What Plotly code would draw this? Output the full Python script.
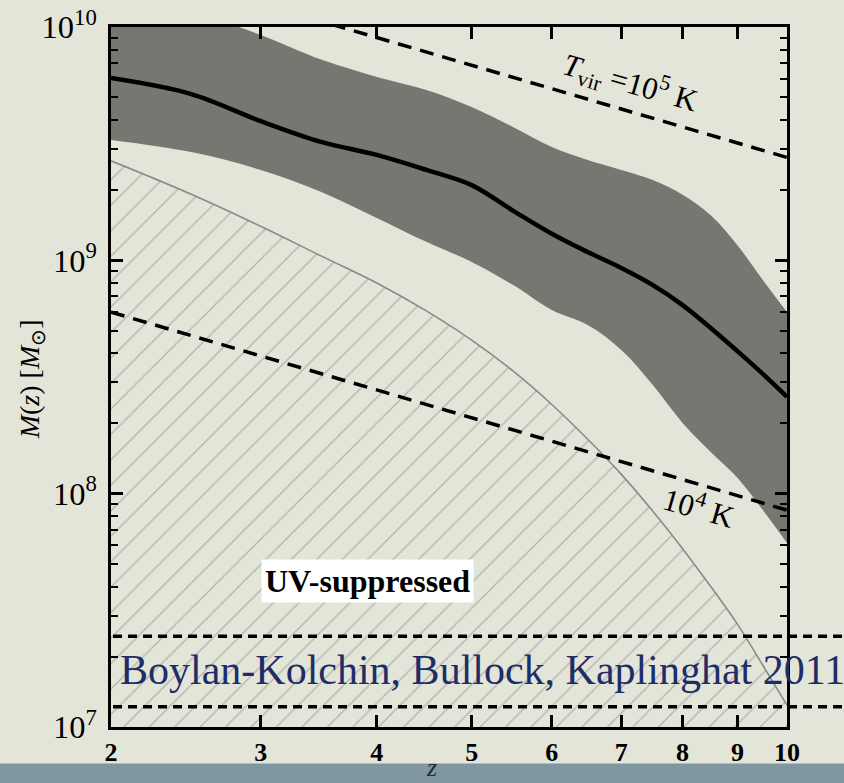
import numpy as np
import plotly.graph_objects as go

# Redshift grid and halo masses (M_sun)
z = [2.0, 2.5, 3.0, 3.5, 4.0, 4.5, 5.0, 5.5, 6.0, 6.5, 7.0, 7.5, 8.0, 8.5, 9.0, 9.5, 10.0]
m_median = [6.04e9, 5.16e9, 3.95e9, 3.21e9, 2.83e9, 2.44e9, 2.10e9, 1.63e9, 1.30e9,
            1.085e9, 9.27e8, 7.83e8, 6.43e8, 5.13e8, 4.08e8, 3.26e8, 2.60e8]
m_upper = [1.26e10, 1.15e10, 9.25e9, 7.23e9, 6.11e9, 5.37e9, 4.54e9, 3.72e9, 3.06e9,
           2.69e9, 2.44e9, 2.21e9, 1.91e9, 1.56e9, 1.16e9, 8.24e8, 6.0e8]
m_lower = [3.28e9, 2.91e9, 2.44e9, 1.96e9, 1.52e9, 1.20e9, 9.84e8, 7.83e8, 6.12e8,
           5.28e8, 4.13e8, 2.92e8, 2.01e8, 1.51e8, 1.17e8, 8.51e7, 6.14e7]
m_uv = [2.67e9, 1.92e9, 1.40e9, 1.04e9, 8.0e8, 6.07e8, 4.55e8, 3.35e8, 2.41e8,
        1.71e8, 1.21e8, 8.41e7, 5.81e7, 4.0e7, 2.76e7, 1.84e7, 1.24e7]

# Virial-temperature lines (straight in log-log)
z_tvir = [2.0, 10.0]
m_t5 = [1.94e10, 2.76e9]
m_t4 = [6.0e8, 8.5e7]

# Mass bracket marked across the panel
m_bracket = [2.45e7, 1.22e7]
m_floor = 1e7

x_ticks = [2, 3, 4, 5, 6, 7, 8, 9, 10]

opz = [1 + v for v in z]          # axis runs in log(1+z)
BG = "#e3e5d8"
SERIF = "Liberation Serif"
SMOOTH = dict(shape="spline", smoothing=1.0)

fig = go.Figure()

# scatter band (lower edge, then upper edge filled down to it)
fig.add_trace(go.Scatter(x=opz, y=m_lower, mode="lines",
                         line=dict(width=0, **SMOOTH), hoverinfo="skip"))
fig.add_trace(go.Scatter(x=opz, y=m_upper, mode="lines", fill="tonexty",
                         fillcolor="#767771", line=dict(width=0, **SMOOTH),
                         hoverinfo="skip"))

# UV-suppressed hatched region
fig.add_trace(go.Scatter(x=opz, y=[m_floor] * len(opz), mode="lines",
                         line=dict(width=0), hoverinfo="skip"))
fig.add_trace(go.Scatter(
    x=opz, y=m_uv, mode="lines", fill="tonexty", fillcolor="rgba(0,0,0,0)",
    line=dict(color="#8a8a86", width=1.6, **SMOOTH),
    fillpattern=dict(shape="/", size=18, solidity=0.07, fgcolor="#80807c",
                     bgcolor="rgba(0,0,0,0)"),
    hoverinfo="skip"))

# median track
fig.add_trace(go.Scatter(x=opz, y=m_median, mode="lines",
                         line=dict(color="black", width=4.5, **SMOOTH), hoverinfo="skip"))

# Tvir lines
for m in (m_t5, m_t4):
    fig.add_trace(go.Scatter(x=[1 + v for v in z_tvir], y=m, mode="lines",
                             line=dict(color="black", width=3.5, dash="14px,9px"),
                             hoverinfo="skip"))

# bracket lines extending past the frame
for m in m_bracket:
    fig.add_shape(type="line", xref="paper", yref="y", x0=0.003, x1=1.09, y0=m, y1=m,
                  line=dict(color="black", width=3.5, dash="9px,6px"), layer="above")

# bottom strip
fig.add_shape(type="rect", xref="paper", yref="paper", x0=-0.2, x1=1.2,
              y0=-0.09, y1=-0.052, fillcolor="#7f97a3", line=dict(width=0), layer="below")

ann = []
ann.append(dict(xref="paper", yref="paper", x=0.768, y=0.92, textangle=16,
                xanchor="center", yanchor="middle",
                text="<i>T</i><sub>vir</sub> =10<sup>5</sup> K", showarrow=False,
                font=dict(family=SERIF, size=31, color="black")))
ann.append(dict(xref="paper", yref="paper", x=0.871, y=0.315, textangle=16,
                xanchor="center", yanchor="middle",
                text="10<sup>4</sup> K", showarrow=False,
                font=dict(family=SERIF, size=31, color="black")))
ann.append(dict(xref="paper", yref="paper", x=0.380, y=0.209,
                xanchor="center", yanchor="middle",
                text="<b>UV-suppressed</b>", showarrow=False, bgcolor="white",
                borderpad=3, font=dict(family=SERIF, size=32, color="black")))
ann.append(dict(xref="paper", yref="paper", x=0.549, y=0.081,
                xanchor="center", yanchor="middle",
                text="Boylan-Kolchin, Bullock, Kaplinghat 2011", showarrow=False,
                font=dict(family=SERIF, size=42, color="#1e2d68")))
ann.append(dict(xref="paper", yref="paper", x=-0.118, y=0.497, textangle=-90,
                xanchor="center", yanchor="middle",
                text="<i>M</i>(<i>z</i>) [<i>M</i><sub>⊙</sub>]", showarrow=False,
                font=dict(family=SERIF, size=28, color="black")))
ann.append(dict(xref="paper", yref="paper", x=0.474, y=-0.058,
                xanchor="center", yanchor="middle",
                text="<i>z</i>", showarrow=False,
                font=dict(family=SERIF, size=26, color="#2a2a2a")))

fig.update_layout(
    width=844, height=783, margin=dict(l=111, r=57, t=27, b=56, autoexpand=False),
    paper_bgcolor=BG, plot_bgcolor=BG, showlegend=False, annotations=ann,
    xaxis=dict(type="log", range=[np.log10(3), np.log10(11)], automargin=False,
               tickvals=[1 + v for v in x_ticks], ticktext=[str(v) for v in x_ticks],
               ticks="inside", ticklen=12, tickwidth=2.5, tickcolor="black",
               showline=True, linewidth=3, linecolor="black", mirror="ticks",
               showgrid=False, zeroline=False,
               tickfont=dict(family=SERIF, size=26, color="black", weight="bold")),
    yaxis=dict(type="log", range=[7, 10], dtick=1, exponentformat="power",
               automargin=False,
               ticks="inside", ticklen=12, tickwidth=2.5, tickcolor="black",
               minor=dict(ticks="inside", ticklen=7, tickwidth=2, tickcolor="black"),
               showline=True, linewidth=3, linecolor="black", mirror="ticks",
               showgrid=False, zeroline=False, ticklabelstandoff=6,
               tickfont=dict(family=SERIF, size=26, color="black")),
)

fig.write_html("out.html")
